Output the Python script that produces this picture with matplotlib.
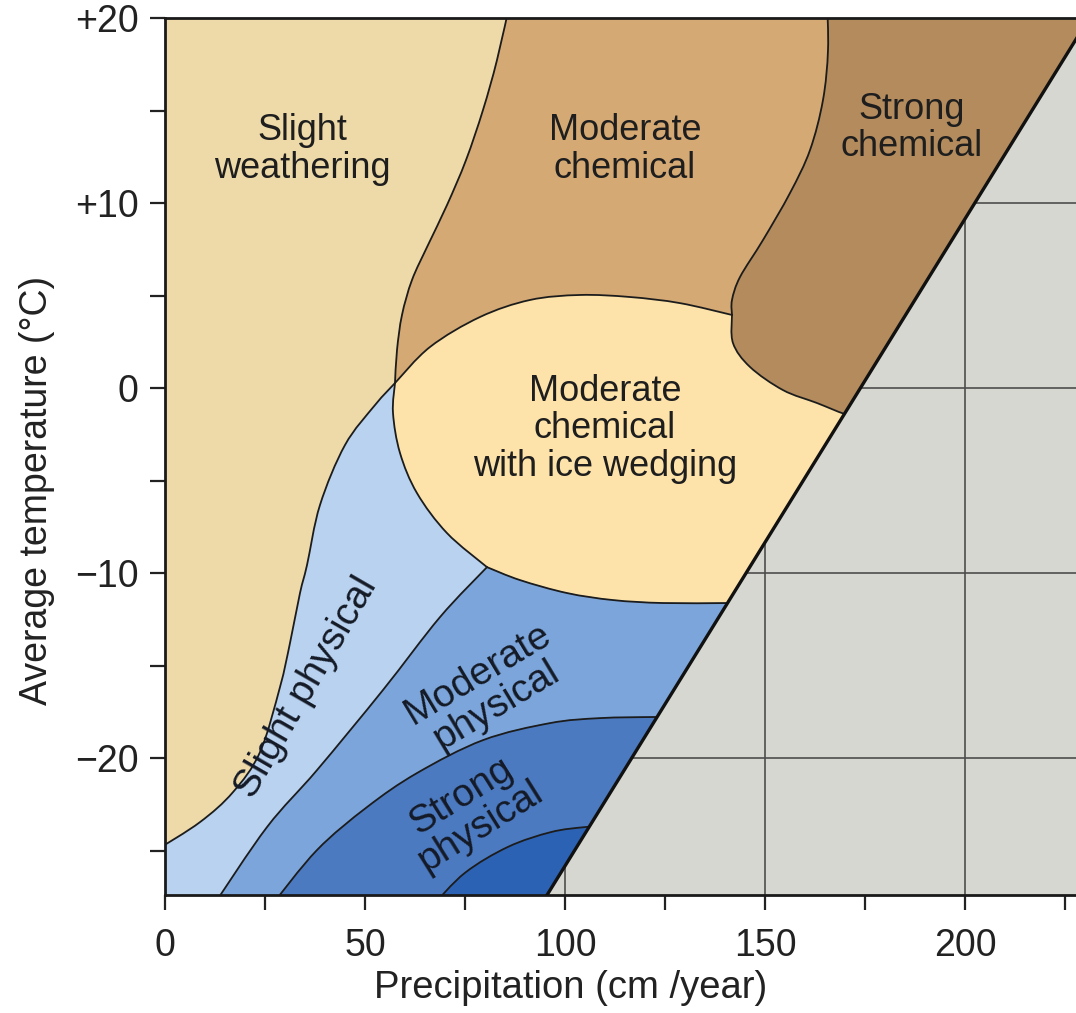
"""
Weathering regimes as a function of mean annual temperature and precipitation.
"""
import numpy as np
import matplotlib.pyplot as plt
from matplotlib.patches import Polygon, PathPatch
from matplotlib.path import Path

plt.rcParams['font.family'] = ['Liberation Sans', 'DejaVu Sans']

# Region boundaries, as (precipitation cm/yr, temperature degC)
slight_phys_top = [(-2.0, -24.95), (8.75, -23.46), (17.0, -21.84), (23.75, -19.68),
                   (28.75, -16.16), (31.25, -13.78), (33.75, -11.08), (35.5, -9.57),
                   (38.75, -6.32), (45.0, -3.08), (52.5, -0.92), (57.5, 0.27)]
mod_chem_left = [(57.5, 0.27), (58.0, 2.05), (59.25, 3.95), (61.75, 5.84), (65.75, 7.73),
                 (70.5, 9.89), (75.25, 12.32), (79.5, 15.03), (83.0, 17.73), (86.4, 21.0)]
strong_chem_left = [(165.5, 21.0), (165.75, 18.27), (164.5, 15.57), (161.25, 12.86),
                    (156.25, 10.54), (149.5, 8.0), (143.75, 6.0), (141.75, 4.76),
                    (141.75, 3.95)]
ice_top = [(57.5, 0.27), (66.25, 2.22), (78.75, 3.84), (91.25, 4.76), (103.75, 5.03),
           (116.25, 4.92), (128.75, 4.59), (141.75, 3.95)]
strong_chem_bottom = [(141.75, 3.95), (142.0, 2.43), (146.25, 1.14), (154.5, -0.11),
                      (163.0, -0.81), (170.0, -1.41), (176.0, -1.75)]
ice_left = [(57.5, 0.27), (57.0, -1.35), (58.75, -3.51), (63.0, -5.68), (70.5, -7.84),
            (80.5, -9.68)]
ice_bottom = [(80.5, -9.68), (88.75, -10.38), (100.5, -11.08), (112.0, -11.46),
              (124.5, -11.62), (140.75, -11.62), (150.0, -11.62)]
mod_phys_top = [(80.5, -9.68), (68.75, -12.38), (54.5, -16.32), (38.0, -20.65),
                (25.5, -23.73), (12.0, -28.0)]
strong_phys_top = [(26.5, -28.0), (38.0, -24.97), (50.5, -22.65), (63.0, -20.81),
                   (79.5, -19.03), (96.25, -18.11), (108.75, -17.84), (122.75, -17.78),
                   (132.0, -17.78)]
core_top = [(66.8, -28.0), (75.0, -26.2), (85.75, -24.8), (96.5, -24.0), (105.0, -23.73),
            (112.0, -23.65)]
dry_limit = [(93.8, -28.0), (233.9, 21.0)]

region_colors = ['#EEDAA8', '#D5A974', '#B38B5D', '#FDE3A9', '#B8D2EF',
                 '#7CA6DB', '#4C7AC0', '#2C62B4']

labels = ['Slight\nweathering', 'Moderate\nchemical', 'Strong\nchemical',
          'Moderate\nchemical\nwith ice wedging']
label_x = [34.25, 115.0, 186.75, 110.0]
label_y = [12.9, 12.9, 14.05, -2.2]

tilted_labels = ['Slight physical', 'Moderate\nphysical', 'Strong\nphysical']
tilted_x = [35.3, 80.5, 76.5]
tilted_y = [-16.2, -16.3, -22.9]
tilted_rot = [60, 31, 32]

x_ticks = [0, 50, 100, 150, 200]
x_minor = [25, 75, 125, 175, 225]
y_ticks = [20, 10, 0, -10, -20]
y_tick_labels = ['+20', '+10', '0', '\u221210', '\u221220']
y_minor = [15, 5, -5, -15, -25]

X_MAX, Y_MIN, Y_MAX = 227.75, -27.4, 20.0
R, TOP, BOT = 260.0, 21.0, -28.0


def smooth(pts):
    """Catmull-Rom through the points, as cubic Bezier pieces (without the first point)."""
    p = np.asarray(pts, float)
    n = len(p)
    verts = []
    for i in range(n - 1):
        p0 = p[i - 1] if i > 0 else p[i]
        p3 = p[i + 2] if i + 2 < n else p[i + 1]
        verts += [p[i] + (p[i + 1] - p0) / 6, p[i + 1] - (p3 - p[i]) / 6, p[i + 1]]
    return verts, [Path.CURVE4] * len(verts)


def outline(*pieces):
    """Closed path: curved pieces (lists of points) joined by straight lines."""
    verts = [pieces[0][0]]
    codes = [Path.MOVETO]
    for piece in pieces:
        if len(piece) > 2:
            if tuple(piece[0]) != tuple(verts[-1]):
                verts.append(piece[0])
                codes.append(Path.LINETO)
            v, c = smooth(piece)
        else:
            v, c = list(piece), [Path.LINETO] * len(piece)
        verts += v
        codes += c
    verts.append(verts[0])
    codes.append(Path.CLOSEPOLY)
    return Path(verts, codes)


fig = plt.figure(figsize=(10.76, 10.13), dpi=100)
ax = fig.add_axes([165 / 1076, 118 / 1013, 1 - 165 / 1076, 877 / 1013])
ax.set_facecolor('#D7D7D1')
ax.set_xlim(0, X_MAX)
ax.set_ylim(Y_MIN, Y_MAX)

# everything left of the dry limit line is coloured, the rest stays grey
clip = Polygon([(-5, BOT), dry_limit[0], dry_limit[1], (-5, TOP)],
               closed=True, transform=ax.transData)

rev = lambda c: c[::-1]
regions = [
    outline([(-2, TOP)], rev(mod_chem_left), rev(slight_phys_top)),
    outline(mod_chem_left, strong_chem_left, rev(ice_top)),
    outline(strong_chem_left, strong_chem_bottom,
            [(R, strong_chem_bottom[-1][1]), (R, TOP)]),
    outline(ice_top, strong_chem_bottom,
            [(R, strong_chem_bottom[-1][1]), (R, ice_bottom[-1][1])],
            rev(ice_bottom), rev(ice_left)),
    outline(slight_phys_top, ice_left, mod_phys_top, [(-2, BOT)]),
    outline(ice_bottom, [(R, ice_bottom[-1][1]), (R, strong_phys_top[-1][1])],
            rev(strong_phys_top), rev(mod_phys_top)),
    outline(strong_phys_top, [(R, strong_phys_top[-1][1]), (R, core_top[-1][1])],
            rev(core_top)),
    outline(core_top, [(R, core_top[-1][1]), (R, BOT)]),
]

for path, color in zip(regions, region_colors):
    patch = PathPatch(path, facecolor=color, edgecolor=color, linewidth=0.6, zorder=1)
    ax.add_patch(patch)
    patch.set_clip_path(clip)

edges = [slight_phys_top, mod_chem_left, strong_chem_left, ice_top, strong_chem_bottom,
         ice_left, ice_bottom, mod_phys_top, strong_phys_top, core_top]
for edge in edges:
    v, c = smooth(edge)
    line = PathPatch(Path([edge[0]] + v, [Path.MOVETO] + c), fill=False,
                     edgecolor='#1c1c1c', lw=1.3, zorder=2, capstyle='round')
    ax.add_patch(line)
    line.set_clip_path(clip)

xs, ys = zip(*dry_limit)
ax.plot(xs, ys, color='#111111', lw=2.4, zorder=3)

for text, x, y in zip(labels, label_x, label_y):
    ax.text(x, y, text, ha='center', va='center', fontsize=26, color='#1e1e1e',
            linespacing=1.1, zorder=4)

for text, x, y, rot in zip(tilted_labels, tilted_x, tilted_y, tilted_rot):
    ax.text(x, y, text, ha='center', va='center', rotation=rot, fontsize=28,
            color='#141a26', linespacing=1.0, rotation_mode='anchor', zorder=4)

ax.set_xticks(x_ticks)
ax.set_xticklabels([str(v) for v in x_ticks])
ax.set_xticks(x_minor, minor=True)
ax.set_yticks(y_ticks)
ax.set_yticklabels(y_tick_labels)
ax.set_yticks(y_minor, minor=True)
ax.tick_params(which='both', direction='out', length=11, width=1.6, color='#222222',
               labelsize=27, labelcolor='#222222')
ax.tick_params(axis='x', which='major', pad=13)
ax.tick_params(axis='y', which='major', pad=8)

ax.grid(True, which='major', color='#4d4d4d', lw=1.2)
ax.set_axisbelow(True)

for side in ['left', 'bottom', 'top']:
    ax.spines[side].set_linewidth(2.0)
    ax.spines[side].set_color('#1a1a1a')
ax.spines['right'].set_visible(False)

fig.text(571 / 1076, 1 - 988 / 1013, 'Precipitation (cm /year)', ha='center', va='center',
         fontsize=27.5, color='#222222')
fig.text(37 / 1076, 1 - 490 / 1013, 'Average temperature (\u00b0C)', ha='center',
         va='center', rotation=90, fontsize=27, color='#222222')

fig.savefig('out.png', dpi=100)
